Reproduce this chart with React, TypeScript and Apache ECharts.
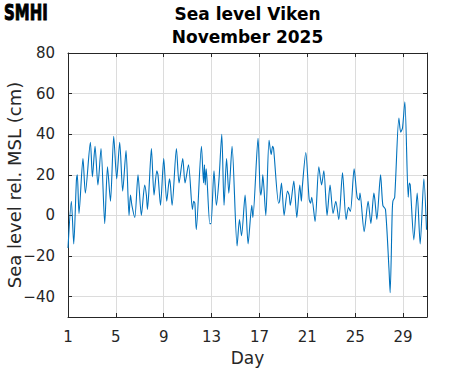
import React, { useEffect, useRef } from "react";
import * as echarts from "echarts";

const days = [
  1.0, 1.28, 1.48, 1.7, 1.78, 1.92, 2.25, 2.45, 2.87, 3.04, 3.26, 3.5, 3.76, 4.07, 4.3, 4.55, 4.82, 5.07, 5.32, 5.57,
  5.85, 6.1, 6.22, 6.34, 6.58, 6.85, 7.13, 7.41, 7.55, 7.64, 7.75, 7.97, 8.19, 8.42, 8.52, 8.73, 9.0, 9.25, 9.48, 9.56,
  9.7, 10.06, 10.28, 10.59, 10.78, 11.07, 11.4, 11.5, 11.6, 11.72, 12.15, 12.33, 12.4, 12.47, 12.55, 12.85, 12.95, 13.2, 13.4, 13.62,
  13.85, 14.04, 14.25, 14.44, 14.71, 15.13, 15.33, 15.5, 15.8, 16.05, 16.36, 16.45, 16.88, 17.04, 17.12, 17.22, 17.28, 17.53, 17.8, 17.98,
  18.1, 18.18, 18.6, 18.68, 18.84, 19.06, 19.34, 19.48, 19.58, 19.87, 20.12, 20.37, 20.5, 20.58, 20.87, 21.15, 21.27, 21.37, 21.65, 21.96,
  22.19, 22.38, 22.65, 22.9, 23.15, 23.38, 23.63, 23.94, 24.24, 24.44, 24.6, 24.91, 25.16, 25.33, 25.4, 25.75, 26.08, 26.31, 26.56, 26.64,
  26.81, 27.12, 27.31, 27.53, 27.82, 27.92, 28.09, 28.15, 28.3, 28.65, 28.8, 28.95, 29.15, 29.43, 29.52, 29.6, 29.9, 30.18, 30.43, 30.74,
  30.96,
];

const levels = [
  -16, 7, -14, 17, 20, 1, 28, 11, 36, 19, 34, 15, 33, -4, 24, 7, 39, 18, 36, 12,
  32, 0, 10, 5, -1, 20, 0, 15, 10, 3, 11, 33, 10, 22, 20, 5, 28, 7, 18, 15,
  5, 33, 16, 28, 16, 25, 3, 7, 6, -7, 34, 16, 25, 15, 23, -4, -4, 22, 5, 18,
  40, 5, 28, 11, 34, -15, -2, -10, 10, -14, 5, -1, 38, 14, 10, 15, 20, 0, 37, 30,
  34, 33, 6, 7, 16, 0, 12, 10, 5, 17, -1, 15, 7, 14, 31, 8, 6, 9, -3, 24,
  15, 22, 0, 15, 1, 7, -2, 21, -2, 4, 2, 23, 9, 7.5, 11, -8, 7, -4, 11, 8,
  -2, 20, 5, 3, -26, -38, 1, 7, 9, 48, 41, 43, 56, 9, 16, 15, -12, 11, -14, 18,
  -7,
];

const xTicks = [1, 5, 9, 13, 17, 21, 25, 29];
const yTicks = [-40, -20, 0, 20, 40, 60, 80];
const titleLines = ["Sea level Viken", "November 2025"];
const xName = "Day";
const yName = "Sea level rel. MSL (cm)";
const logoText = "SMHI";

export default function App() {
  const ref = useRef<HTMLDivElement>(null);
  useEffect(() => {
    const chart = echarts.init(ref.current!, null, { renderer: "svg" });
    const axisColor = "#262626";
    const gridColor = "#dcdcdc";
    const font = "DejaVu Sans";
    const data = days.map((d, i) => [d, levels[i]]);
    const left = 68;
    const top = 53;
    const right = 427;
    const bottom = 317;
    const cx = (left + right) / 2;

    const line = { show: true, onZero: false, lineStyle: { color: axisColor, width: 1 } };
    const xBase = { type: "value", min: 1, max: 31, axisLine: line };
    const yBase = { type: "value", min: -50, max: 80, axisLine: line };

    chart.setOption({
      animation: false,
      backgroundColor: "#ffffff",
      grid: {
        left,
        top,
        right: 471 - right,
        bottom: 371 - bottom,
        containLabel: false,
        outerBoundsMode: "none",
      },
      xAxis: [
        {
          ...xBase,
          position: "bottom",
          axisTick: { show: true, inside: true, length: 4, customValues: xTicks, lineStyle: { color: axisColor } },
          axisLabel: {
            customValues: xTicks,
            fontFamily: font,
            fontSize: 15,
            color: axisColor,
            margin: 12,
          },
          splitLine: { show: true, lineStyle: { color: gridColor, width: 1 } },
        },
        {
          ...xBase,
          position: "top",
          axisTick: { show: true, inside: true, length: 4, customValues: xTicks, lineStyle: { color: axisColor } },
          axisLabel: { show: false },
          splitLine: { show: false },
        },
      ],
      yAxis: [
        {
          ...yBase,
          position: "left",
          axisTick: { show: true, inside: true, length: 4, customValues: yTicks, lineStyle: { color: axisColor } },
          axisLabel: {
            customValues: yTicks,
            fontFamily: font,
            fontSize: 15,
            color: axisColor,
            margin: 13,
            formatter: (v: number) => String(v).replace("-", "\u2212"),
          },
          splitLine: { show: true, lineStyle: { color: gridColor, width: 1 } },
        },
        {
          ...yBase,
          position: "right",
          axisTick: { show: true, inside: true, length: 4, customValues: yTicks, lineStyle: { color: axisColor } },
          axisLabel: { show: false },
          splitLine: { show: false },
        },
      ],
      series: [
        {
          type: "line",
          data,
          xAxisIndex: 0,
          yAxisIndex: 0,
          showSymbol: false,
          smooth: 0.25,
          lineStyle: { color: "#0072BD", width: 1.1 },
          z: 3,
        },
      ],
      graphic: [
        {
          type: "text",
          x: 4,
          y: 12,
          scaleX: 0.68,
          style: {
            text: logoText,
            fontFamily: "DejaVu Sans",
            fontWeight: 900,
            fontSize: 22,
            fill: "#000",
            stroke: "#000",
            lineWidth: 1,
            align: "left",
            verticalAlign: "middle",
          },
        },
        {
          type: "text",
          x: cx,
          y: 14,
          style: {
            text: titleLines[0],
            fontFamily: font,
            fontWeight: "bold",
            fontSize: 17,
            fill: "#000",
            align: "center",
            verticalAlign: "middle",
          },
        },
        {
          type: "text",
          x: cx,
          y: 37,
          style: {
            text: titleLines[1],
            fontFamily: font,
            fontWeight: "bold",
            fontSize: 17,
            fill: "#000",
            align: "center",
            verticalAlign: "middle",
          },
        },
        {
          type: "text",
          x: cx,
          y: 358,
          style: {
            text: xName,
            fontFamily: font,
            fontSize: 17,
            fill: axisColor,
            align: "center",
            verticalAlign: "middle",
          },
        },
        {
          type: "text",
          x: 14,
          y: 185,
          rotation: Math.PI / 2,
          style: {
            text: yName,
            fontFamily: font,
            fontSize: 18,
            fill: axisColor,
            align: "center",
            verticalAlign: "middle",
          },
        },
      ],
    });
    return () => chart.dispose();
  }, []);
  return <div ref={ref} style={{ position: "fixed", left: 0, top: 0, width: 471, height: 371 }} />;
}
